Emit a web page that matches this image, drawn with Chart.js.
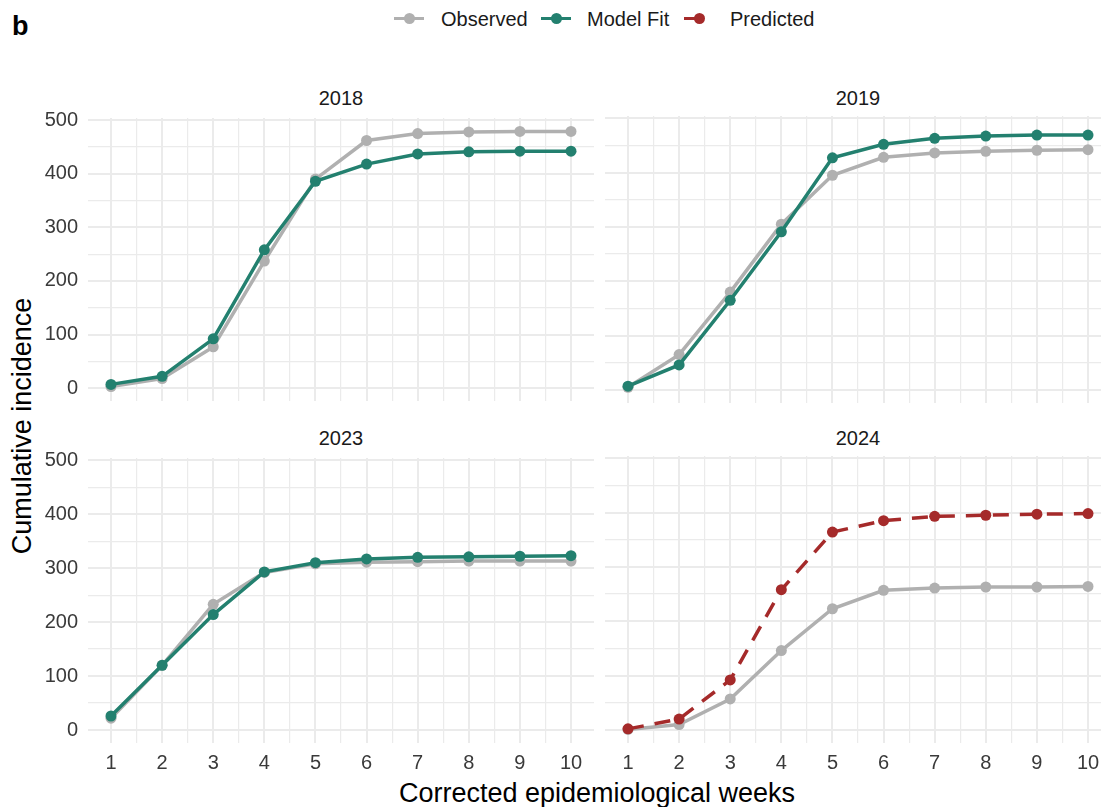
<!DOCTYPE html>
<html><head><meta charset="utf-8">
<script src="https://cdn.jsdelivr.net/npm/chart.js@4.4.0/dist/chart.umd.min.js"></script>
<style>
html,body{margin:0;padding:0;background:#fff;overflow:hidden;}
#wrap{position:relative;width:1101px;height:807px;overflow:hidden;font-family:"Liberation Sans",Arial,sans-serif;background:#fff;}
canvas{position:absolute;}
.t{position:absolute;white-space:nowrap;color:#1a1a1a;line-height:1;}
.key{position:absolute;width:30px;height:12px;}
.key .ln{position:absolute;top:4.5px;height:3.5px;}
.key .dt{position:absolute;left:9.5px;top:0.5px;width:11px;height:11px;border-radius:50%;}
</style></head><body><div id="wrap">
<div class="t" style="left:12px;top:13px;font-size:27px;font-weight:bold;color:#000;">b</div>

<div class="key" style="left:394px;top:12px;"><div class="ln" style="left:0;width:30px;background:#B0B0B0"></div><div class="dt" style="background:#B0B0B0"></div></div>
<div class="t" style="left:441px;top:9px;font-size:20px;">Observed</div>
<div class="key" style="left:541px;top:12px;"><div class="ln" style="left:0;width:30px;background:#23806F"></div><div class="dt" style="background:#23806F"></div></div>
<div class="t" style="left:587px;top:9px;font-size:20px;">Model Fit</div>
<div class="key" style="left:684px;top:12px;"><div class="ln" style="left:0;width:13px;background:#A52A2A"></div><div class="dt" style="background:#A52A2A"></div></div>
<div class="t" style="left:730px;top:9px;font-size:20px;">Predicted</div>

<div class="t" style="left:341px;top:98px;font-size:20px;transform:translate(-50%,-50%);">2018</div>
<div class="t" style="left:858px;top:98px;font-size:20px;transform:translate(-50%,-50%);">2019</div>
<div class="t" style="left:341px;top:438px;font-size:20px;transform:translate(-50%,-50%);">2023</div>
<div class="t" style="left:858px;top:438px;font-size:20px;transform:translate(-50%,-50%);">2024</div>

<div class="t" style="left:22px;top:426px;font-size:27px;color:#000;transform:translate(-50%,-50%) rotate(-90deg);">Cumulative incidence</div>
<div class="t" style="left:597px;top:793px;font-size:27px;color:#000;transform:translate(-50%,-50%);">Corrected epidemiological weeks</div>
</div>
<script>
// ---- data ----
const weeks = [1,2,3,4,5,6,7,8,9,10];
const xTickValues = [1,1.5,2,2.5,3,3.5,4,4.5,5,5.5,6,6.5,7,7.5,8,8.5,9,9.5,10];
const yTickValues = [0,50,100,150,200,250,300,350,400,450,500];

const observed2018 = [3, 18, 77, 237, 390, 462, 475, 478, 479, 479];
const modelFit2018 = [7, 22, 92, 258, 386, 418, 437, 441, 442, 442];

const observed2019 = [5, 65, 180, 305, 395, 428, 436, 439, 441, 442];
const modelFit2019 = [7, 46, 165, 291, 427, 452, 463, 467, 469, 469];

const observed2023 = [22, 120, 233, 292, 308, 311, 312, 313, 313, 313];
const modelFit2023 = [26, 120, 214, 293, 310, 317, 320, 321, 322, 323];

const observed2024  = [1, 10, 57, 146, 223, 257, 261, 263, 263, 264];
const predicted2024 = [2, 20, 92, 258, 364, 385, 393, 395, 397, 398];

// ---- styles ----
const GREY = '#B0B0B0', TEAL = '#23806F', RED = '#A52A2A';
const GRID = '#EBEBEB', TICK = '#3A3A3A';
const FONT = '"Liberation Sans", Arial, sans-serif';
const wrap = document.getElementById('wrap');

const pts = arr => weeks.map((w, i) => ({x: w, y: arr[i]}));
function ds(label, arr, color, order, dash) {
  return {label, data: pts(arr), borderColor: color, backgroundColor: color,
    pointBackgroundColor: color, pointBorderWidth: 0, pointRadius: 5.5,
    borderWidth: 3.5, tension: 0, order, borderDash: dash || [], fill: false};
}

function panel(area, showY, showX, datasets) {
  const M = 20, YW = 88, XH = 45;
  const left = area.l - (showY ? YW : M);
  const top = area.t - M;
  const w = area.r + M - left;
  const h = area.b + (showX ? XH : M) - top;
  const c = document.createElement('canvas');
  c.width = w; c.height = h;
  c.style.left = left + 'px'; c.style.top = top + 'px';
  c.style.width = w + 'px'; c.style.height = h + 'px';
  wrap.appendChild(c);
  new Chart(c, {
    type: 'line',
    data: {datasets},
    options: {
      responsive: false, animation: false, events: [], devicePixelRatio: 1,
      layout: {padding: {left: showY ? 0 : M, top: M, right: M, bottom: showX ? 0 : M}},
      plugins: {legend: {display: false}, tooltip: {enabled: false}},
      scales: {
        x: {
          type: 'linear', min: 0.55, max: 10.45,
          border: {display: false},
          grid: {drawTicks: false, color: GRID,
                 lineWidth: ctx => (ctx.tick && Number.isInteger(ctx.tick.value)) ? 2 : 1.2},
          ticks: {display: showX, autoSkip: false, maxRotation: 0, padding: 8, color: TICK,
                  font: {family: FONT, size: 20},
                  callback: v => Number.isInteger(v) ? String(v) : ''},
          afterBuildTicks: s => { s.ticks = xTickValues.map(v => ({value: v})); },
          afterFit: s => { s.height = showX ? XH : 0; }
        },
        y: {
          type: 'linear', min: -24, max: 504,
          border: {display: false},
          grid: {drawTicks: false, color: GRID,
                 lineWidth: ctx => (ctx.tick && ctx.tick.value % 100 === 0) ? 2 : 1.2},
          ticks: {display: showY, autoSkip: false, padding: 10, color: TICK,
                  font: {family: FONT, size: 20},
                  callback: v => (v % 100 === 0) ? String(v) : ''},
          afterBuildTicks: s => { s.ticks = yTickValues.map(v => ({value: v})); },
          afterFit: s => { s.width = showY ? YW : 0; }
        }
      }
    }
  });
}

panel({l: 88, t: 116, r: 594, b: 403}, true, false,
  [ds('Model Fit', modelFit2018, TEAL, 1), ds('Observed', observed2018, GREY, 2)]);
panel({l: 605, t: 116, r: 1111, b: 403}, false, false,
  [ds('Model Fit', modelFit2019, TEAL, 1), ds('Observed', observed2019, GREY, 2)]);
panel({l: 88, t: 456, r: 594, b: 743}, true, true,
  [ds('Model Fit', modelFit2023, TEAL, 1), ds('Observed', observed2023, GREY, 2)]);
panel({l: 605, t: 456, r: 1111, b: 743}, false, true,
  [ds('Predicted', predicted2024, RED, 1, [16, 11]), ds('Observed', observed2024, GREY, 2)]);
</script>
</body></html>
